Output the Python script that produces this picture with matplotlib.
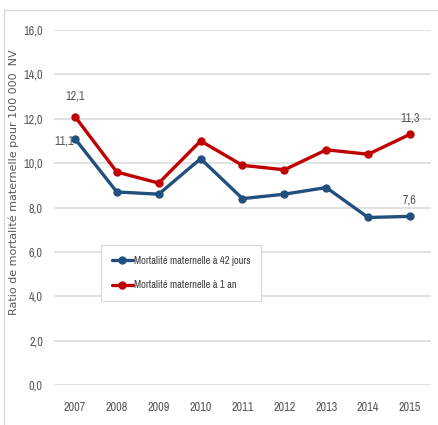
import matplotlib
matplotlib.use("Agg")
import matplotlib.pyplot as plt
from matplotlib import font_manager
from matplotlib.patches import Rectangle

years = ["2007", "2008", "2009", "2010", "2011", "2012", "2013", "2014", "2015"]
mm_42_jours = [11.1, 8.7, 8.6, 10.2, 8.4, 8.6, 8.9, 7.55, 7.6]
mm_1_an = [12.1, 9.6, 9.1, 11.0, 9.9, 9.7, 10.6, 10.4, 11.3]
y_ticks = [0, 2, 4, 6, 8, 10, 12, 14, 16]
label_42 = "Mortalité maternelle à 42 jours"
label_1an = "Mortalité maternelle à 1 an"
y_title = "Ratio de mortalité maternelle pour 100 000  NV"

# regular-weight condensed face for tick and legend text, if one is installed
def is_regular_condensed(f):
    narrowish = ("condensed" in str(f.stretch).lower() or "Condensed" in f.fname
                 or "Narrow" in f.name or "Narrow" in f.fname)
    w = f.weight if isinstance(f.weight, int) else {"normal": 400, "regular": 400, "book": 400}.get(str(f.weight).lower(), 700)
    return narrowish and w <= 400 and f.style == "normal" and "Bold" not in f.fname and "Oblique" not in f.fname and "Italic" not in f.fname

cands = [f for f in font_manager.fontManager.ttflist if is_regular_condensed(f)]
cands.sort(key=lambda f: (0 if "Narrow" in f.fname else 1, f.fname))
if cands:
    nfont = font_manager.FontProperties(fname=cands[0].fname)
else:
    nfont = font_manager.FontProperties(family="Liberation Sans")

def narrow(size):
    p = nfont.copy()
    p.set_size(size)
    return p

BLUE = "#22507e"
RED = "#c00000"
GRID = "#d9d9d9"
TXT = "#595959"

W, H = 439, 425
fig = plt.figure(figsize=(W / 100, H / 100), dpi=100)

# outer chart frame
fig.patches.append(Rectangle((4 / W, -0.1), 1.2, 1.1 - 10 / H,
                             transform=fig.transFigure, fill=False,
                             edgecolor=GRID, linewidth=1.0))

ax = fig.add_axes([54 / W, 1 - 385 / H, (431 - 54) / W, (385 - 30) / H])
x = list(range(len(years)))

ax.set_xlim(-0.5, len(years) - 0.5)
ax.set_ylim(0, 16)
ax.set_yticks(y_ticks)
ax.set_yticklabels([f"{v:.1f}".replace(".", ",") for v in y_ticks])
ax.set_xticks(x)
ax.set_xticklabels(years)
for s in ax.spines.values():
    s.set_visible(False)
ax.tick_params(length=0, colors=TXT)
ax.tick_params(axis="x", pad=12)
ax.tick_params(axis="y", pad=8)
for lab in ax.get_xticklabels() + ax.get_yticklabels():
    lab.set_fontproperties(narrow(8.8))
ax.yaxis.grid(True, color=GRID, linewidth=1.1)
ax.set_axisbelow(True)

ax.plot(x, mm_42_jours, color=BLUE, linewidth=2.4, marker="o", markersize=5,
        label=label_42, solid_capstyle="round")
ax.plot(x, mm_1_an, color=RED, linewidth=2.4, marker="o", markersize=5,
        label=label_1an, solid_capstyle="round")

fmt = lambda v: f"{v:.1f}".replace(".", ",")
ax.annotate(fmt(mm_1_an[0]), (x[0], mm_1_an[0]), xytext=(0, 11), textcoords="offset points",
            ha="center", va="bottom", color=TXT, fontproperties=narrow(8.8))
ax.annotate(fmt(mm_42_jours[0]), (x[0], mm_42_jours[0]), xytext=(-1, -2), textcoords="offset points",
            ha="right", va="center", color=TXT, fontproperties=narrow(8.8))
ax.annotate(fmt(mm_1_an[-1]), (x[-1], mm_1_an[-1]), xytext=(0, 8), textcoords="offset points",
            ha="center", va="bottom", color=TXT, fontproperties=narrow(8.8))
ax.annotate(fmt(mm_42_jours[-1]), (x[-1], mm_42_jours[-1]), xytext=(0, 8), textcoords="offset points",
            ha="center", va="bottom", color=TXT, fontproperties=narrow(8.8))

ax.set_ylabel(y_title, fontsize=8, color=TXT, family="DejaVu Sans")
ax.yaxis.set_label_coords(-35 / (431 - 54), (385 - 182) / (385 - 30))

leg = ax.legend(loc="upper left", bbox_to_anchor=((101 - 54) / (431 - 54), 1 - (245 - 30) / (385 - 30)),
                frameon=True, fancybox=False, framealpha=1, edgecolor=GRID,
                prop=narrow(7.6), handlelength=2.0, handletextpad=0.15,
                labelspacing=1.4, borderpad=1.0, borderaxespad=0)
for t in leg.get_texts():
    t.set_color("#404040")
leg.get_frame().set_linewidth(0.8)

fig.savefig("out.png", dpi=100, facecolor="white")
